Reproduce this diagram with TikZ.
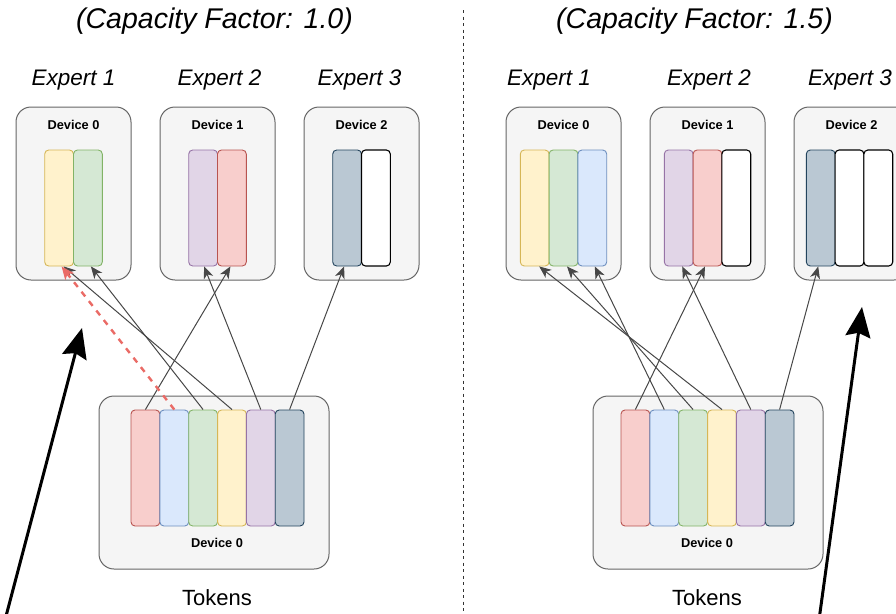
\documentclass[tikz,border=0pt]{standalone}
\usepackage{fontspec}
\setmainfont{Liberation Sans}
\usetikzlibrary{arrows.meta}

\definecolor{boxfill}{HTML}{F5F5F5}
\definecolor{boxline}{HTML}{666666}
\definecolor{redF}{HTML}{F8CECC}
\definecolor{redD}{HTML}{B85450}
\definecolor{blueF}{HTML}{DAE8FC}
\definecolor{blueD}{HTML}{6C8EBF}
\definecolor{greenF}{HTML}{D5E8D4}
\definecolor{greenD}{HTML}{82B366}
\definecolor{yellowF}{HTML}{FFF2CC}
\definecolor{yellowD}{HTML}{D6B656}
\definecolor{purpleF}{HTML}{E1D5E7}
\definecolor{purpleD}{HTML}{9673A6}
\definecolor{grayF}{HTML}{BAC8D3}
\definecolor{grayD}{HTML}{23445D}
\definecolor{linkD}{HTML}{474747}
\definecolor{dropD}{HTML}{EA6B66}

\tikzset{
    device/.style={rectangle, rounded corners=15pt, draw=boxline, fill=boxfill, line width=1pt, minimum width=115pt, minimum height=173pt, inner sep=0pt},
    tokbox/.style={device, minimum width=230pt},
    slot/.style={rectangle, rounded corners=4pt, line width=0.9pt, minimum width=28.8pt, minimum height=116pt, inner sep=0pt},
    redslot/.style={slot, draw=redD, fill=redF},
    blueslot/.style={slot, draw=blueD, fill=blueF},
    greenslot/.style={slot, draw=greenD, fill=greenF},
    yellowslot/.style={slot, draw=yellowD, fill=yellowF},
    purpleslot/.style={slot, draw=purpleD, fill=purpleF},
    grayslot/.style={slot, draw=grayD, fill=grayF},
    freeslot/.style={slot, draw=black, fill=white, line width=1.1pt},
    title/.style={anchor=base, inner sep=0pt, font=\fontsize{28.5}{34}\selectfont\itshape},
    expert/.style={anchor=base, inner sep=0pt, font=\fontsize{22.5}{27}\selectfont\itshape},
    devlabel/.style={anchor=base, inner sep=0pt, font=\fontsize{12.8}{15}\selectfont\bfseries},
    toklabel/.style={anchor=base, inner sep=0pt, font=\fontsize{22}{26}\selectfont},
    route/.style={draw=linkD, line width=1pt, -{Stealth[length=12pt, width=10pt, inset=3.5pt]}},
    drop/.style={draw=dropD, line width=2.4pt, dash pattern=on 6pt off 6pt, -{Stealth[length=13pt, width=11pt, inset=3.5pt]}},
    bigarrow/.style={draw=black, line width=3pt, -{Stealth[length=30pt, width=25pt, inset=4pt]}},
    separator/.style={draw=black!80, line width=1pt, dash pattern=on 3pt off 3.5pt}
}

\begin{document}
\begin{tikzpicture}[x=1pt, y=-1pt]
    \useasboundingbox (0,0) rectangle (896,613);

    \node at (214.5,28.5) [title] (capL) {(Capacity Factor: 1.0)};
    \node at (73.5,85) [expert] (expL1) {Expert 1};
    \node at (219.5,85) [expert] (expL2) {Expert 2};
    \node at (359.5,85) [expert] (expL3) {Expert 3};

    \node at (73.5,193.5) [device] (devL0) {};
    \node at (217.5,193.5) [device] (devL1) {};
    \node at (361.5,193.5) [device] (devL2) {};
    \node at (73.5,129) [devlabel] (devL0lbl) {Device 0};
    \node at (217.5,129) [devlabel] (devL1lbl) {Device 1};
    \node at (361.5,129) [devlabel] (devL2lbl) {Device 2};

    \node at (59.1,208) [yellowslot] (eL1a) {};
    \node at (87.9,208) [greenslot] (eL1b) {};
    \node at (203.1,208) [purpleslot] (eL2a) {};
    \node at (231.9,208) [redslot] (eL2b) {};
    \node at (347.1,208) [grayslot] (eL3a) {};
    \node at (375.9,208) [freeslot] (eL3b) {};

    \node at (214,482.5) [tokbox] (tokL) {};
    \node at (145.4,468) [redslot] (tL1) {};
    \node at (174.3,468) [blueslot] (tL2) {};
    \node at (203.1,468) [greenslot] (tL3) {};
    \node at (232,468) [yellowslot] (tL4) {};
    \node at (260.8,468) [purpleslot] (tL5) {};
    \node at (289.6,468) [grayslot] (tL6) {};
    \node at (217,547) [devlabel] (tokLlbl) {Device 0};
    \node at (217,605) [toklabel] (tokLname) {Tokens};

    \draw[route] (tL1.north) -- ([xshift=-1.5pt]eL2b.south);
    \draw[route] (tL3.north) -- ([xshift=3pt]eL1b.south);
    \draw[route] (tL4.north) -- ([xshift=4.5pt]eL1a.south);
    \draw[route] (tL5.north) -- ([xshift=1pt]eL2a.south);
    \draw[route] (tL6.north) -- ([xshift=-3pt]eL3a.south);
    \draw[drop] (tL2.north) -- ([xshift=2.5pt]eL1a.south);

    \node at (694.5,28.5) [title] (capR) {(Capacity Factor: 1.5)};
    \node at (549,85) [expert] (expR1) {Expert 1};
    \node at (709,85) [expert] (expR2) {Expert 2};
    \node at (850,85) [expert] (expR3) {Expert 3};

    \node at (563.5,193.5) [device] (devR0) {};
    \node at (707.5,193.5) [device] (devR1) {};
    \node at (851.5,193.5) [device] (devR2) {};
    \node at (563.5,129) [devlabel] (devR0lbl) {Device 0};
    \node at (707.5,129) [devlabel] (devR1lbl) {Device 1};
    \node at (851.5,129) [devlabel] (devR2lbl) {Device 2};

    \node at (534.7,208) [yellowslot] (eR1a) {};
    \node at (563.5,208) [greenslot] (eR1b) {};
    \node at (592.3,208) [blueslot] (eR1c) {};
    \node at (678.7,208) [purpleslot] (eR2a) {};
    \node at (707.5,208) [redslot] (eR2b) {};
    \node at (736.3,208) [freeslot] (eR2c) {};
    \node at (820.7,208) [grayslot] (eR3a) {};
    \node at (849.5,208) [freeslot] (eR3b) {};
    \node at (878.3,208) [freeslot] (eR3c) {};

    \node at (708,482.5) [tokbox] (tokR) {};
    \node at (635.4,468) [redslot] (tR1) {};
    \node at (664.3,468) [blueslot] (tR2) {};
    \node at (693.1,468) [greenslot] (tR3) {};
    \node at (722,468) [yellowslot] (tR4) {};
    \node at (750.8,468) [purpleslot] (tR5) {};
    \node at (779.6,468) [grayslot] (tR6) {};
    \node at (707,547) [devlabel] (tokRlbl) {Device 0};
    \node at (707,605) [toklabel] (tokRname) {Tokens};

    \draw[route] (tR1.north) -- ([xshift=-2.5pt]eR2b.south);
    \draw[route] (tR2.north) -- ([xshift=2.5pt]eR1c.south);
    \draw[route] (tR3.north) -- ([xshift=3.5pt]eR1b.south);
    \draw[route] (tR4.north) -- ([xshift=4.5pt]eR1a.south);
    \draw[route] (tR5.north) -- ([xshift=3.5pt]eR2a.south);
    \draw[route] (tR6.north) -- ([xshift=-2.5pt]eR3a.south);

    \coordinate (sepTop) at (463,10);
    \coordinate (sepBot) at (463,613);
    \draw[separator] (sepTop) -- (sepBot);

    \coordinate (bigLfoot) at (5,620);
    \coordinate (bigLtip) at (82,328);
    \coordinate (bigRfoot) at (819,620);
    \coordinate (bigRtip) at (862,307);
    \draw[bigarrow] (bigLfoot) -- (bigLtip);
    \draw[bigarrow] (bigRfoot) -- (bigRtip);
\end{tikzpicture}
\end{document}
